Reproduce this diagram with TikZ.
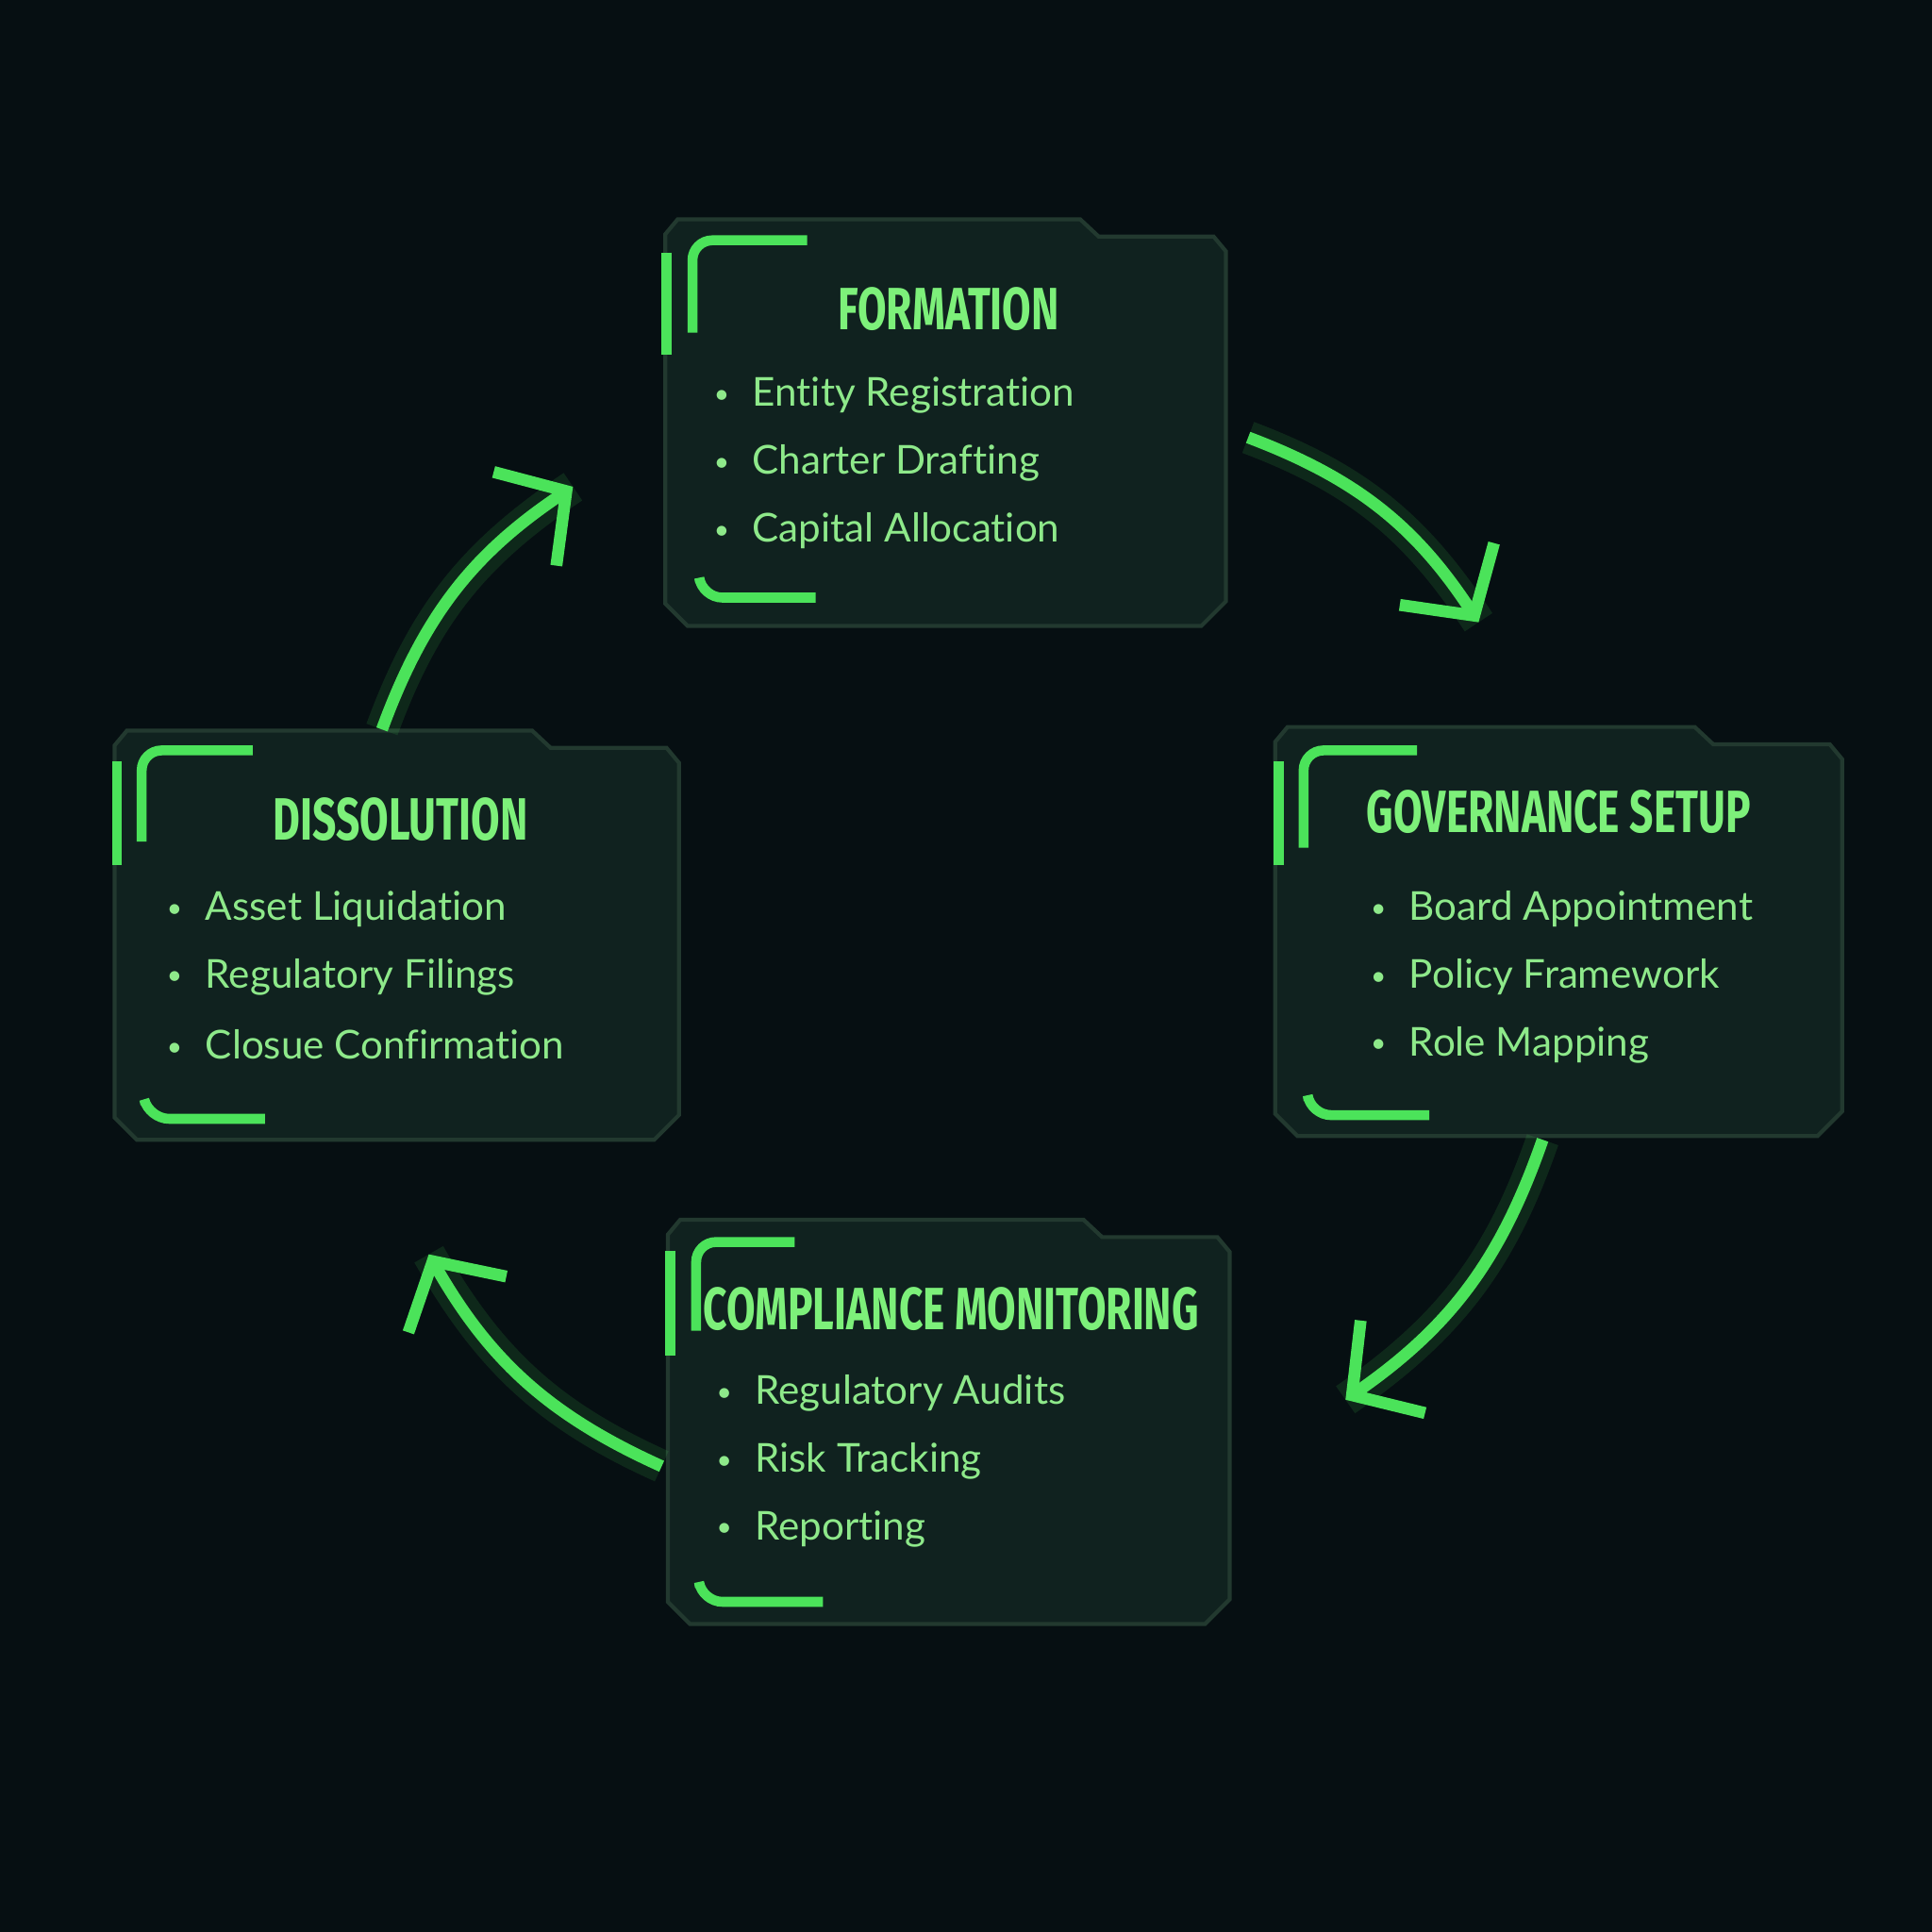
\documentclass[tikz,border=0pt]{standalone}
\usepackage{fontspec}
\setmainfont{Lato}[Ligatures=NoCommon]
\newfontfamily\titlefont{Fira Sans}
\usetikzlibrary{arrows.meta}
\definecolor{bg}{HTML}{060F12}
\definecolor{cardfill}{HTML}{10221F}
\definecolor{cardline}{HTML}{22392F}
\definecolor{neon}{HTML}{4BE35A}
\definecolor{ttl}{HTML}{7DF07A}
\definecolor{itm}{HTML}{8EE98A}
\newcommand{\bul}{{\raisebox{1pt}{\fontsize{8}{8}\selectfont•}}\hspace{7pt}}
\begin{document}
\begin{tikzpicture}[x=0.013061cm,y=-0.013061cm,
 card/.style={fill=cardfill,draw=cardline,line width=1.2pt},
 accent/.style={draw=neon,line width=3pt,rounded corners=6pt},
 ttlsty/.style={text=ttl,font=\titlefont\bfseries\fontsize{18}{20}\selectfont},
 item/.style={text=itm,anchor=west,font=\fontsize{12}{14}\selectfont},
 flow/.style={draw=neon,line width=3.6pt,-{Straight Barb[length=15pt,width=34pt,line width=3.6pt]}},
 glow/.style={draw=neon,line width=10pt,opacity=0.12}]
\fill[bg] (0,0) rectangle (1568,1568);
\useasboundingbox (0,0) rectangle (1568,1568);
\tikzset{pics/cardbox/.style args={#1/#2}{code={
 \path[card] (0,12) -- (10,0) -- (#1*0.74,0) -- (#1*0.74+15,14) -- (#1-10,14) -- (#1,26) -- (#1,#2-20) -- (#1-20,#2) -- (18,#2) -- (0,#2-18) -- cycle;}}}
% Formation
\pic at (540,178) {cardbox=455/330};
\draw[neon,line width=3pt] (541,205) -- (541,288);
\draw[accent] (562,270) -- (562,195) -- (655,195);
\draw[accent] (568,472) -- (570,485) -- (662,485);
\node[ttlsty] (t1) at (770,251) {\scalebox{0.7}[1]{FORMATION}};
\node[item] (i11) at (570,321) {\bul Entity Registration};
\node[item] (i12) at (570,376) {\bul Charter Drafting};
\node[item] (i13) at (570,431) {\bul Capital Allocation};
% Governance
\pic at (1035,590) {cardbox=460/332};
\draw[neon,line width=3pt] (1038,618) -- (1038,702);
\draw[accent] (1058,688) -- (1058,609) -- (1150,609);
\draw[accent] (1062,893) -- (1064,905) -- (1160,905);
\node[ttlsty] (t2) at (1265,659) {\scalebox{0.7}[1]{GOVERNANCE SETUP}};
\node[item] (i21) at (1103,738) {\bul Board Appointment};
\node[item] (i22) at (1103,793) {\bul Policy Framework};
\node[item] (i23) at (1103,848) {\bul Role Mapping};
% Compliance
\pic at (542,990) {cardbox=456/328};
\draw[neon,line width=3pt] (544,1015) -- (544,1100);
\draw[accent] (565,1080) -- (565,1008) -- (645,1008);
\draw[accent] (568,1288) -- (570,1300) -- (668,1300);
\node[ttlsty] (t3) at (772,1062) {\scalebox{0.7}[1]{COMPLIANCE MONITORING}};
\node[item] (i31) at (572,1131) {\bul Regulatory Audits};
\node[item] (i32) at (572,1186) {\bul Risk Tracking};
\node[item] (i33) at (572,1241) {\bul Reporting};
% Dissolution
\pic at (93,593) {cardbox=458/332};
\draw[neon,line width=3pt] (95,618) -- (95,702);
\draw[accent] (115,683) -- (115,609) -- (205,609);
\draw[accent] (118,896) -- (121,908) -- (215,908);
\node[ttlsty] (t4) at (325,665) {\scalebox{0.7}[1]{DISSOLUTION}};
\node[item] (i41) at (126,738) {\bul Asset Liquidation};
\node[item] (i42) at (126,793) {\bul Regulatory Filings};
\node[item] (i43) at (126,848) {\bul Closue Confirmation};
% arrows
\coordinate (a1s) at (1013,355); \coordinate (a1e) at (1200,505);
\coordinate (a2s) at (1252,925); \coordinate (a2e) at (1092,1136);
\coordinate (a3s) at (537,1190); \coordinate (a3e) at (348,1018);
\coordinate (a4s) at (310,592); \coordinate (a4e) at (465,395);
\foreach \s/\e in {a1s/a1e,a2s/a2e,a3s/a3e,a4s/a4e}{
 \draw[glow] (\s) to[bend left=18] (\e);
 \draw[flow] (\s) to[bend left=18] (\e);}
\end{tikzpicture}
\end{document}
